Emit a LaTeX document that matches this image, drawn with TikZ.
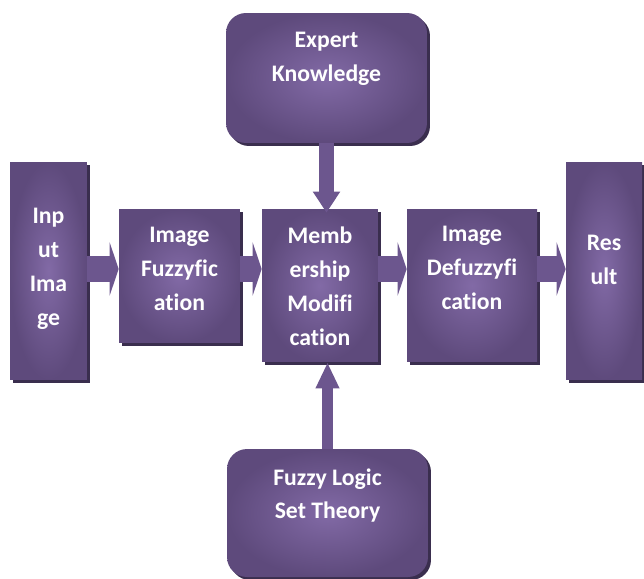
\documentclass[tikz,border=0pt]{standalone}
\usepackage{fontspec}
\setmainfont{Carlito}[Ligatures={NoCommon, NoRare, NoContextual}]
\usepackage{tikz}
\usetikzlibrary{calc, shadows, positioning, arrows.meta}
\definecolor{PlumEdge}{RGB}{94, 74, 124}
\definecolor{PlumCore}{RGB}{130, 106, 166}
\definecolor{PlumShade}{RGB}{58, 46, 78}
\definecolor{PlumArrow}{RGB}{108, 86, 142}

\begin{document}
\begin{tikzpicture}[x=0.02cm, y=-0.02cm,
    block/.style={shading=radial, inner color=PlumCore, outer color=PlumEdge,
        drop shadow={shadow xshift=0.06cm, shadow yshift=-0.06cm, fill=PlumShade, opacity=1},
        inner sep=0pt},
    roundblock/.style={block, rounded corners=0.4cm},
    label/.style={text=white, font=\fontsize{13.5}{19.3}\selectfont\bfseries, align=center},
    flow/.style={PlumArrow, line width=0.52cm, -{Triangle[width=1.06cm, length=0.18cm]}}]
    \useasboundingbox (0,0) rectangle (644,578);

    % Eingang
    \node[block, minimum width=1.54cm, minimum height=4.36cm] (in) at (48.5,271) {};
    \node[label] (in-t) at (48.5,268.5) {Inp\\ut\\Ima\\ge};

    % Fuzzifizierung
    \node[block, minimum width=2.42cm, minimum height=2.68cm] (fuzz) at (179.5,276) {};
    \node[label] (fuzz-t) at (179.5,269) {Image\\Fuzzyfic\\ation};

    % Zugehoerigkeit
    \node[block, minimum width=2.32cm, minimum height=3.06cm] (memb) at (320,285.5) {};
    \node[label] (memb-t) at (320,286) {Memb\\ership\\Modifi\\cation};

    % Defuzzifizierung
    \node[block, minimum width=2.6cm, minimum height=3.06cm] (defuzz) at (472,285.5) {};
    \node[label] (defuzz-t) at (472,268) {Image\\Defuzzyfi\\cation};

    % Ergebnis
    \node[block, minimum width=1.52cm, minimum height=4.36cm] (res) at (604,271) {};
    \node[label] (res-t) at (604,259.5) {Res\\ult};

    % Wissen
    \node[roundblock, minimum width=4.02cm, minimum height=2.6cm] (ek) at (326.5,78) {};
    \node[label] (ek-t) at (326.5,59) {Expert\\Knowledge};

    % Fuzzy-Logik
    \node[roundblock, minimum width=4.02cm, minimum height=2.56cm] (fl) at (327.5,513) {};
    \node[label] (fl-t) at (327.5,495.5) {Fuzzy Logic\\Set Theory};

    % Pfeile
    \draw[flow] ([yshift=0.04cm]in.east) -- ([yshift=0.04cm]in.east -| fuzz.west);
    \draw[flow] ([yshift=0.04cm]in.east -| fuzz.east) -- ([yshift=0.04cm]in.east -| memb.west);
    \draw[flow] ([yshift=0.04cm]in.east -| memb.east) -- ([yshift=0.04cm]in.east -| defuzz.west);
    \draw[flow] ([yshift=0.04cm]in.east -| defuzz.east) -- ([yshift=0.04cm]in.east -| res.west);
    \draw[PlumArrow, line width=0.3cm, -{Triangle[width=0.52cm, length=0.42cm]}]
        (ek.south) -- ([yshift=-0.08cm]ek.south |- memb.north);
    \draw[PlumArrow, line width=0.22cm, -{Triangle[width=0.44cm, length=0.52cm]}]
        (fl.north) -- (fl.north |- memb.south);
\end{tikzpicture}
\end{document}
